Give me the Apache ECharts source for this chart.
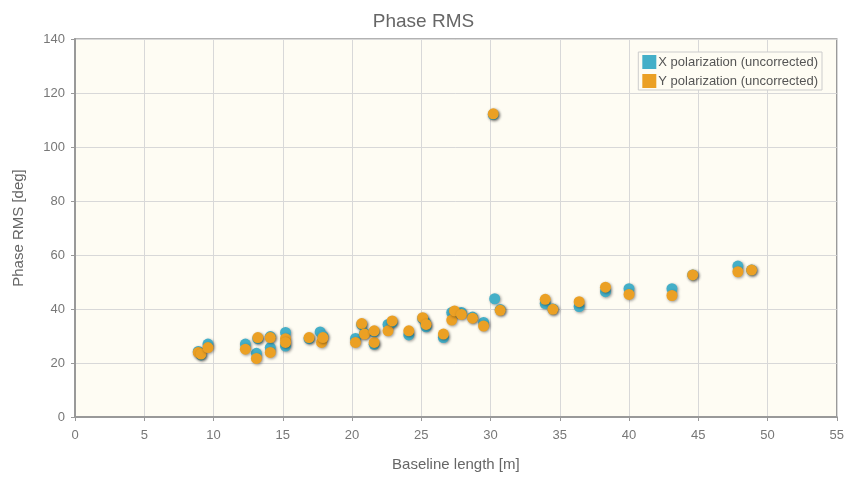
<!DOCTYPE html>
<html><head><meta charset="utf-8">
<script src="https://cdn.jsdelivr.net/npm/echarts@6/dist/echarts.min.js"></script>
<style>html,body{margin:0;padding:0;background:#fff}#c{width:847px;height:477px}</style>
</head><body><div id="c"></div>
<script>
const xTicks = [0,5,10,15,20,25,30,35,40,45,50,55];
const yTicks = [0,20,40,60,80,100,120,140];
const seriesNames = ['X polarization (uncorrected)', 'Y polarization (uncorrected)'];
const baselineX = [8.9,9.1,9.6,12.3,13.2,13.1,14.1,14.1,15.2,15.2,16.9,17.7,17.9,20.25,20.7,20.9,21.6,21.6,22.6,22.9,24.1,25.1,25.3,25.35,26.6,27.2,27.4,27.9,28.7,29.5,30.2,30.3,30.7,33.95,34.5,36.4,38.3,40.0,43.1,44.6,47.86,48.85];
const xPolRms  = [24.3,23.0,27.0,27.0,29.0,23.6,29.8,25.7,31.3,26.3,29.0,31.5,30.0,29.1,34.2,31.0,26.9,31.5,34.3,35.0,30.4,36.5,35.0,33.4,29.4,38.7,38.5,38.7,37.0,35.0,112.0,43.8,39.8,42.0,40.0,40.9,46.4,47.5,47.5,52.6,55.9,54.4];
const baselineY = [8.9,9.1,9.6,12.3,13.2,13.1,14.1,14.1,15.2,15.2,16.9,17.8,17.9,20.25,20.7,20.9,21.6,21.6,22.6,22.9,24.1,25.1,25.35,26.6,27.2,27.4,27.9,28.7,29.5,30.2,30.7,33.95,34.5,36.4,38.3,40.0,43.1,44.6,47.86,48.85];
const yPolRms  = [23.9,23.3,25.7,25.1,29.4,21.7,29.4,23.9,29.0,27.6,29.4,27.6,29.4,27.6,34.6,30.7,27.6,31.9,31.9,35.6,31.9,36.8,34.3,30.7,35.9,39.3,38.0,36.6,33.7,112.3,39.5,43.6,39.9,42.7,48.1,45.4,45.0,52.6,53.8,54.4];
const colors = ['#44afc8', '#eba024'];

const chart = echarts.init(document.getElementById('c'));
const sym = { type: 'scatter', symbolSize: 11 };
const shadow = {shadowBlur: 3, shadowColor: 'rgba(0,0,0,0.4)', shadowOffsetX: 1, shadowOffsetY: 1};
chart.setOption({
  animation: false,
  title: {text: 'Phase RMS', left: 'center', top: 7, textStyle: {fontFamily: 'Liberation Sans', fontSize: 19, fontWeight: 'normal', color: '#666'}},
  legend: {
    right: 25, top: 52, orient: 'vertical', itemGap: 5, itemWidth: 14, itemHeight: 14,
    backgroundColor: '#fefcf3', borderColor: '#ccc', borderWidth: 1, padding: [3,4,2,4],
    icon: 'rect',
    textStyle: {fontFamily: 'Liberation Sans', fontSize: 13, color: '#555', padding: [0,0,0,-3]},
    data: seriesNames
  },
  grid: {left: 75, right: 9, top: 39, bottom: 59, show: true, backgroundColor: '#fefcf3', borderColor: '#999', borderWidth: 1.5},
  xAxis: {
    type: 'value', min: xTicks[0], max: xTicks[xTicks.length-1], interval: 5,
    name: 'Baseline length [m]', nameLocation: 'middle', nameGap: 40,
    nameTextStyle: {fontFamily: 'Liberation Sans', fontSize: 15, color: '#666'},
    axisLine: {lineStyle: {color: '#999', width: 2}},
    axisTick: {show: true, length: 4, lineStyle: {color: '#999'}},
    axisLabel: {fontFamily: 'Liberation Sans', fontSize: 13, color: '#777', margin: 12},
    splitLine: {lineStyle: {color: '#d8d8d8', width: 1}}
  },
  yAxis: {
    type: 'value', min: yTicks[0], max: yTicks[yTicks.length-1], interval: 20,
    name: 'Phase RMS [deg]', nameLocation: 'middle', nameGap: 49, nameRotate: 90,
    nameTextStyle: {fontFamily: 'Liberation Sans', fontSize: 15, color: '#666'},
    axisLine: {show: true, lineStyle: {color: '#999', width: 2}},
    axisTick: {show: true, length: 4, lineStyle: {color: '#999'}},
    axisLabel: {fontFamily: 'Liberation Sans', fontSize: 13, color: '#777', margin: 10},
    splitLine: {lineStyle: {color: '#d8d8d8', width: 1}}
  },
  series: [
    Object.assign({}, sym, {name: seriesNames[0], data: baselineX.map((x,i)=>[x, xPolRms[i]]), itemStyle: Object.assign({color: colors[0], opacity: 1}, shadow)}),
    Object.assign({}, sym, {name: seriesNames[1], data: baselineY.map((x,i)=>[x, yPolRms[i]]), itemStyle: Object.assign({color: colors[1], opacity: 1}, shadow)})
  ]
});
</script></body></html>
